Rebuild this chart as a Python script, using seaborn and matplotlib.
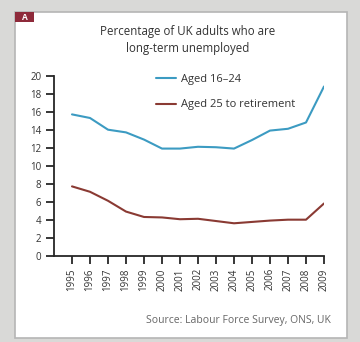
import pandas as pd
import seaborn as sns
import matplotlib.pyplot as plt
from matplotlib.patches import Rectangle

# --- data ---
years = list(range(1995, 2010))
aged_16_24 = [15.7, 15.3, 14.0, 13.7, 12.9, 11.9, 11.9, 12.1, 12.05, 11.9,
              12.85, 13.9, 14.1, 14.8, 18.8]
aged_25_ret = [7.7, 7.1, 6.1, 4.9, 4.3, 4.25, 4.05, 4.1, 3.85, 3.6,
               3.75, 3.9, 4.0, 4.0, 5.8]
series_names = ["Aged 16\u201324", "Aged 25 to retirement"]
y_ticks = list(range(0, 21, 2))

df = pd.concat([
    pd.DataFrame({"year": years, "pct": aged_16_24, "group": series_names[0]}),
    pd.DataFrame({"year": years, "pct": aged_25_ret, "group": series_names[1]}),
])

sns.set_style("ticks")
plt.rcParams["font.family"] = ["Open Sans", "DejaVu Sans"]

fig = plt.figure(figsize=(3.6, 3.42), dpi=100, facecolor="#d9d9d7")

# background axes holding the white page panel and the "A" tag
bg = fig.add_axes([0, 0, 1, 1], zorder=-1)
bg.set_xlim(0, 1)
bg.set_ylim(0, 1)
bg.axis("off")
bg.add_patch(Rectangle((0.042, 0.012), 0.922, 0.953, facecolor="white",
                       edgecolor="#b5b5b5", lw=1.2))
bg.add_patch(Rectangle((0.042, 0.935), 0.052, 0.03, facecolor="#8e2a3a",
                       edgecolor="none"))
bg.text(0.068, 0.95, "A", color="white", fontsize=6, fontweight="bold",
        ha="center", va="center")

ax = fig.add_axes([0.15, 0.2524, 0.75, 0.5263], zorder=2)
ax.set_facecolor("white")
sns.lineplot(data=df, x="year", y="pct", hue="group",
             palette=["#3c9bc2", "#8a3a33"], linewidth=1.5, ax=ax)

ax.set_xlim(1994, 2009)
ax.set_ylim(0, 20)
ax.set_xticks(years)
ax.set_xticklabels([str(y) for y in years], rotation=90, fontsize=7, color="#333333")
ax.set_yticks(y_ticks)
ax.set_yticklabels([str(v) for v in y_ticks], fontsize=7, color="#333333")
ax.tick_params(axis="both", direction="out", length=6, width=1.3, color="#262626",
               left=True, bottom=True, pad=3)
ax.spines["top"].set_visible(False)
ax.spines["right"].set_visible(False)
for s in ("left", "bottom"):
    ax.spines[s].set_visible(True)
    ax.spines[s].set_edgecolor("#262626")
    ax.spines[s].set_linewidth(1.3)
ax.set_xlabel("")
ax.set_ylabel("")

ax.legend(frameon=False, loc="upper left", bbox_to_anchor=(0.34, 1.065),
          fontsize=8, handlelength=1.8, labelspacing=1.3, handletextpad=0.5,
          labelcolor="#333333")

fig.text(0.522, 0.882, "Percentage of UK adults who are\nlong-term unemployed",
         ha="center", va="center", fontsize=8.3, color="#333333", linespacing=1.4)
fig.text(0.918, 0.064, "Source: Labour Force Survey, ONS, UK", ha="right",
         va="center", fontsize=7.5, color="#666666")

fig.savefig("out.png", dpi=100, facecolor=fig.get_facecolor())
